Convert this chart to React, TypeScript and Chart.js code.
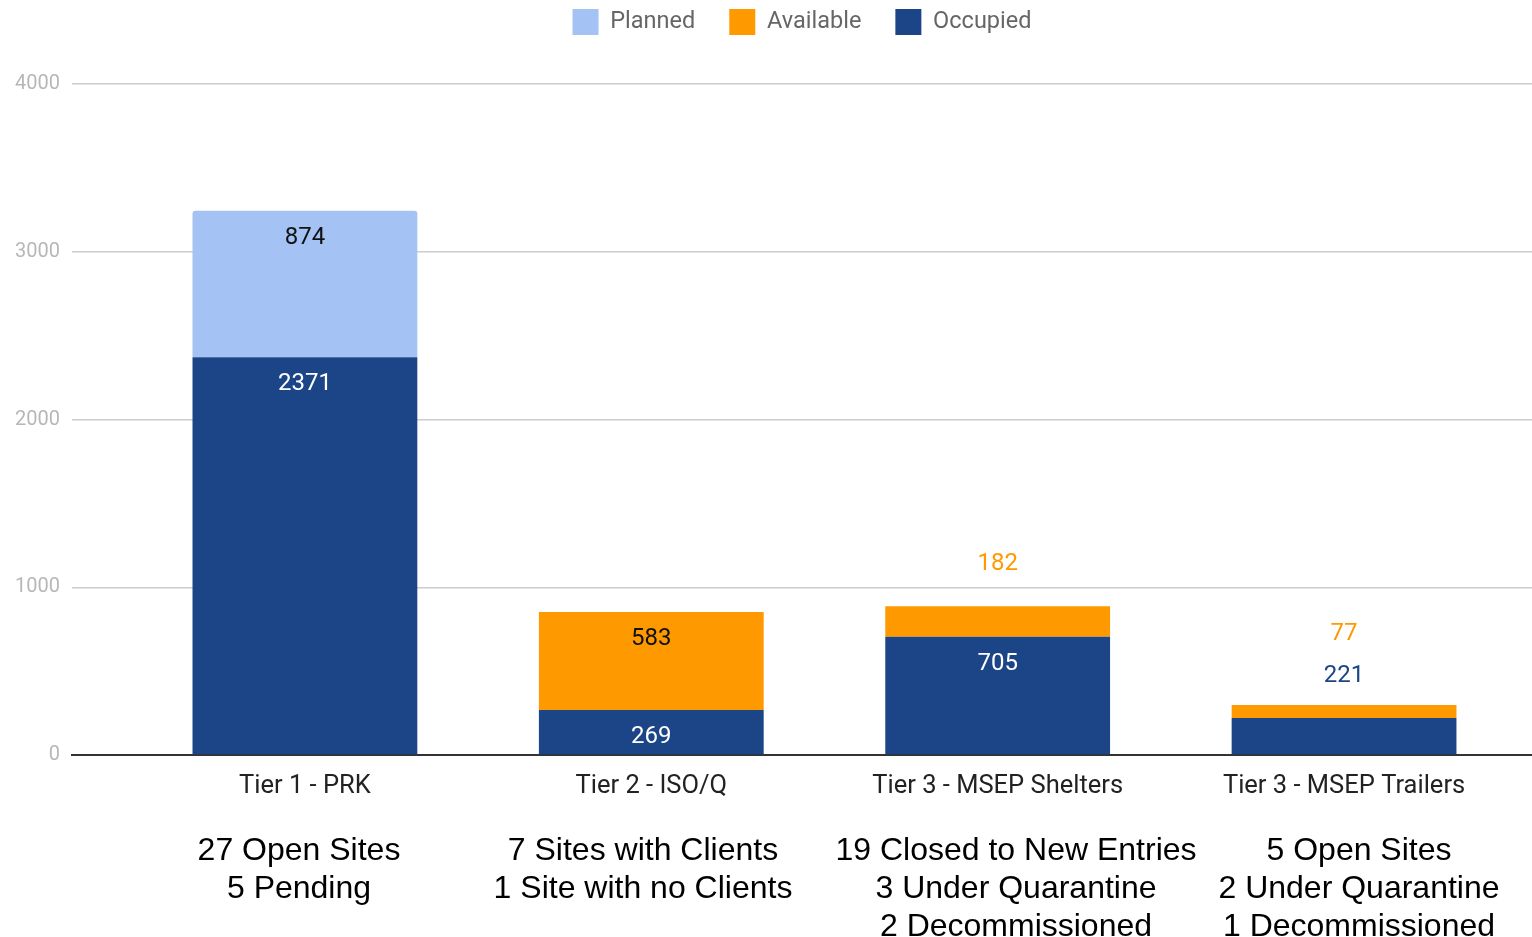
import React, { useEffect, useRef } from "react";
import { Chart, registerables } from "chart.js";

Chart.register(...registerables);

const categories = [
  "Tier 1 - PRK",
  "Tier 2 - ISO/Q",
  "Tier 3 - MSEP Shelters",
  "Tier 3 - MSEP Trailers",
];
const occupied: (number | null)[] = [2371, 269, 705, 221];
const available: (number | null)[] = [null, 583, 182, 77];
const planned: (number | null)[] = [874, null, null, null];
const yTicks = [0, 1000, 2000, 3000, 4000];

const notes: string[][] = [
  ["27 Open Sites", "5 Pending"],
  ["7 Sites with Clients", "1 Site with no Clients"],
  ["19 Closed to New Entries", "3 Under Quarantine", "2 Decommissioned"],
  ["5 Open Sites", "2 Under Quarantine", "1 Decommissioned"],
];

// layout constants (pixels)
const W = 1532;
const H = 937;
const NOTE_CENTERS = [299, 643, 1016, 1359];
const NOTE_TOP = 830;

const toPoints = (arr: (number | null)[]) => arr.map((v, i) => ({ x: i, y: v }));

const barLabels = {
  id: "barLabels",
  afterDatasetsDraw(chart: any) {
    const ctx = chart.ctx;
    const n = categories.length;
    const lastOutside = new Array(n).fill(Infinity);
    ctx.save();
    ctx.font = "24px Roboto";
    ctx.textAlign = "center";
    ctx.textBaseline = "middle";
    chart.data.datasets.forEach((ds: any, di: number) => {
      const meta = chart.getDatasetMeta(di);
      meta.data.forEach((el: any, j: number) => {
        const v = ds.data[j].y;
        if (v == null) return;
        const h = el.base - el.y;
        if (h >= 40) {
          ctx.fillStyle = ds.insideColor;
          ctx.fillText(String(v), el.x, el.y + 27);
        } else {
          let y = el.y - 42;
          if (y > lastOutside[j] - 42) y = lastOutside[j] - 42;
          lastOutside[j] = y;
          ctx.fillStyle = ds.outsideColor;
          ctx.fillText(String(v), el.x, y);
        }
      });
    });
    ctx.restore();
  },
};

export default function App() {
  const ref = useRef<HTMLCanvasElement | null>(null);

  useEffect(() => {
    if (!ref.current) return;
    const chart = new Chart(ref.current, {
      type: "bar",
      data: {
        datasets: [
          {
            label: "Occupied",
            data: toPoints(occupied),
            backgroundColor: "#1c4587",
            insideColor: "#ffffff",
            outsideColor: "#1c4587",
            xAxisID: "x",
            yAxisID: "y",
          } as any,
          {
            label: "Available",
            data: toPoints(available),
            backgroundColor: "#ff9900",
            insideColor: "#111111",
            outsideColor: "#ff9900",
            xAxisID: "x",
            yAxisID: "y",
          } as any,
          {
            label: "Planned",
            data: toPoints(planned),
            backgroundColor: "#a4c2f4",
            borderRadius: 3,
            insideColor: "#111111",
            outsideColor: "#a4c2f4",
            xAxisID: "x",
            yAxisID: "y",
          } as any,
        ],
      },
      options: {
        responsive: false,
        animation: false,
        layout: { padding: { top: -25, left: 0, right: 0, bottom: 0 } },
        datasets: {
          bar: { categoryPercentage: 1, barPercentage: 0.649 },
        } as any,
        plugins: {
          legend: {
            position: "top",
            reverse: true,
            fullSize: false,
            labels: {
              boxWidth: 26,
              boxHeight: 26,
              padding: 34,
              color: "#666666",
              font: { family: "Roboto", size: 23.5 },
            },
          },
          tooltip: { enabled: false },
        },
        scales: {
          x: {
            type: "linear",
            position: "bottom",
            min: -0.6724,
            max: 3.5426,
            offset: false,
            stacked: true,
            afterBuildTicks: (s: any) => {
              s.ticks = categories.map((_, i) => ({ value: i }));
            },
            ticks: {
              callback: (v: any) => categories[v] ?? "",
              autoSkip: false,
              maxRotation: 0,
              padding: 16,
              color: "#222222",
              font: { family: "Roboto", size: 25.5 },
            },
            grid: { display: false, drawTicks: false, offset: false },
            border: { display: true, color: "#333333", width: 2 },
            afterFit: (s: any) => {
              s.height = 182;
            },
          } as any,
          xTop: {
            type: "linear",
            position: "top",
            display: true,
            ticks: { display: false },
            grid: { display: false, drawTicks: false },
            border: { display: false },
            afterFit: (s: any) => {
              s.height = 39;
            },
          } as any,
          y: {
            stacked: true,
            min: 0,
            max: 4000,
            afterBuildTicks: (s: any) => {
              s.ticks = yTicks.map((v) => ({ value: v }));
            },
            ticks: {
              padding: 12,
              color: "#b7b7b7",
              font: { family: "Roboto", size: 20 },
              callback: (v: any) => String(v),
            },
            grid: {
              color: (c: any) => (c.tick && c.tick.value === 0 ? "rgba(0,0,0,0)" : "#cccccc"),
              lineWidth: 1.5,
              drawTicks: false,
            },
            border: { display: false },
            afterFit: (s: any) => {
              s.width = 72;
            },
          } as any,
        },
      },
      plugins: [barLabels],
    });
    return () => chart.destroy();
  }, []);

  return (
    <div
      style={{
        position: "fixed",
        left: 0,
        top: 0,
        width: W,
        height: H,
        overflow: "hidden",
        background: "#ffffff",
      }}
    >
      <canvas ref={ref} width={W} height={H} style={{ display: "block" }} />
      {notes.map((lines, i) => (
        <div
          key={i}
          style={{
            position: "absolute",
            left: NOTE_CENTERS[i] - 250,
            top: NOTE_TOP,
            width: 500,
            textAlign: "center",
            fontFamily: "'Liberation Sans', Arial, sans-serif",
            fontSize: 32,
            lineHeight: "38px",
            color: "#000000",
            whiteSpace: "nowrap",
          }}
        >
          {lines.map((t, k) => (
            <div key={k}>{t}</div>
          ))}
        </div>
      ))}
    </div>
  );
}
